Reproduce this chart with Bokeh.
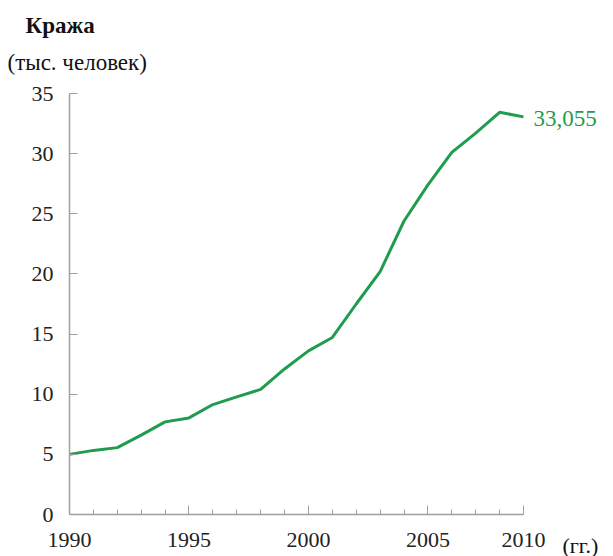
from bokeh.plotting import figure
from bokeh.models import Range1d, FixedTicker, Label
from bokeh.embed import file_html
from bokeh.resources import INLINE

# Data (thousand people)
years = list(range(1990, 2010))
values = [5.0, 5.33, 5.56, 6.6, 7.7, 8.03, 9.14, 9.78, 10.4, 12.1,
          13.6, 14.72, 17.5, 20.2, 24.4, 27.4, 30.1, 31.7, 33.44, 33.055]
x_ticks = [1990, 1995, 2000, 2005, 2009]
x_tick_labels = {2009: "2010"}
y_ticks = [0, 5, 10, 15, 20, 25, 30, 35]
last_label = "33,055"
title_text = "Кража"
unit_text = "(тыс. человек)"
x_unit_text = "(гг.)"

GREEN = "#1f9c4f"
FONT = "'Liberation Serif', 'Times New Roman', serif"
AXIS = "#a0a0a0"
TICK_FS = "22px"
TEXT_FS = "23px"

W, H = 613, 556
# pixel layout of the plotting area (frame covers the whole canvas)
X0_PX, X1_PX = 69, 523      # x of first / last year
Y0_PX, Y1_PX = 514, 93      # y of 0 / 35
sx = (X1_PX - X0_PX) / (years[-1] - years[0])
sy = (Y0_PX - Y1_PX) / (y_ticks[-1] - y_ticks[0])
x_start = years[0] - X0_PX / sx
x_end = years[0] + (W - X0_PX) / sx
y_end = y_ticks[-1] + Y1_PX / sy
y_start = y_ticks[0] - (H - Y0_PX) / sy

p = figure(width=W, height=H, output_backend="svg", toolbar_location=None,
           x_range=Range1d(x_start, x_end), y_range=Range1d(y_start, y_end),
           min_border_left=0, min_border_right=0, min_border_top=0, min_border_bottom=0)
p.outline_line_color = None
p.xgrid.visible = False
p.ygrid.visible = False
p.background_fill_color = "white"
p.border_fill_color = "white"

p.line(years, values, line_color=GREEN, line_width=3)

# x axis
xa = p.xaxis[0]
xa.fixed_location = 0
xa.bounds = (years[0], years[-1])
xa.ticker = FixedTicker(ticks=x_ticks, minor_ticks=years)
xa.major_label_overrides = x_tick_labels
xa.axis_line_color = AXIS
xa.axis_line_width = 1.5
xa.major_tick_line_color = AXIS
xa.minor_tick_line_color = AXIS
xa.major_tick_in = 9
xa.major_tick_out = 0
xa.minor_tick_in = 5
xa.minor_tick_out = 0
xa.major_label_standoff = 18
xa.major_label_text_font = FONT
xa.major_label_text_font_size = TICK_FS
xa.major_label_text_color = "#222222"

# y axis
ya = p.yaxis[0]
ya.fixed_location = years[0]
ya.bounds = (y_ticks[0], y_ticks[-1])
ya.ticker = FixedTicker(ticks=y_ticks, minor_ticks=[])
ya.axis_line_color = AXIS
ya.axis_line_width = 1.5
ya.major_tick_line_color = AXIS
ya.major_tick_in = 8
ya.major_tick_out = 0
ya.major_label_standoff = 16
ya.major_label_text_font = FONT
ya.major_label_text_font_size = TICK_FS
ya.major_label_text_color = "#222222"

# value label at the end of the line
p.add_layout(Label(x=years[-1], y=values[-1], text=last_label, x_offset=10, y_offset=-2,
                   text_baseline="middle", text_align="left",
                   text_font=FONT, text_font_size=TEXT_FS, text_color=GREEN))

# title and unit
p.add_layout(Label(x=years[0], y=y_ticks[-1], text=title_text, x_offset=-44, y_offset=68,
                   text_baseline="alphabetic", text_align="left",
                   text_font=FONT, text_font_size=TEXT_FS, text_font_style="bold",
                   text_color="#111111"))
p.add_layout(Label(x=years[0], y=y_ticks[-1], text=unit_text, x_offset=-62, y_offset=31,
                   text_baseline="alphabetic", text_align="left",
                   text_font=FONT, text_font_size=TEXT_FS, text_color="#111111"))

# x unit label, aligned with the x tick labels
p.add_layout(Label(x=years[-1], y=0, text=x_unit_text, x_offset=39, y_offset=-18,
                   text_baseline="top", text_align="left",
                   text_font=FONT, text_font_size=TICK_FS, text_color="#111111"))

open("out.html", "w").write(file_html(p, INLINE))
